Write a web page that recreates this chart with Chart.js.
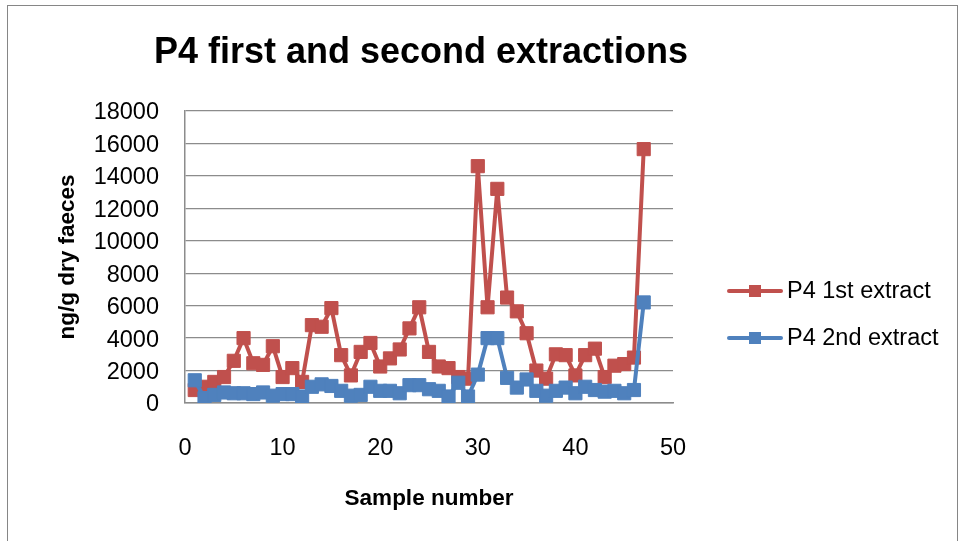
<!DOCTYPE html>
<html>
<head>
<meta charset="utf-8">
<title>P4 first and second extractions</title>
<script src="https://cdn.jsdelivr.net/npm/chart.js@4/dist/chart.umd.min.js"></script>
<style>
  html, body { margin: 0; padding: 0; background: #ffffff; }
  #wrap { width: 960px; height: 541px; }
</style>
</head>
<body>
<div id="wrap"><canvas id="chart" width="960" height="541"></canvas></div>
<script>
// Sample numbers and P4 concentrations (ng/g dry faeces) for both extractions
const sampleNumbers = [1,2,3,4,5,6,7,8,9,10,11,12,13,14,15,16,17,18,19,20,21,22,23,24,25,26,27,28,29,30,31,32,33,34,35,36,37,38,39,40,41,42,43,44,45,46,47];
const firstExtract = [800,1000,1300,1600,2600,4000,2450,2350,3500,1600,2150,1300,4800,4700,5850,2950,1700,3150,3700,2250,2750,3300,4600,5900,3150,2250,2150,1600,1500,14600,5900,13200,6500,5650,4300,2000,1500,3000,2950,1700,2950,3350,1600,2300,2400,2800,15650];
const secondExtract = [1400,300,500,650,600,600,550,650,450,550,550,400,1000,1150,1050,750,450,500,1000,750,750,600,1100,1100,850,750,400,1250,400,1750,4000,4000,1550,950,1450,750,450,750,950,600,1000,800,700,750,600,800,6200];
const seriesNames = ['P4 1st extract', 'P4 2nd extract'];
const yTicks = [0,2000,4000,6000,8000,10000,12000,14000,16000,18000];
const xTicks = [0,10,20,30,40,50];

const RED = '#C0504D';
const BLUE = '#4F81BD';
const GRID = '#8C8C8C';
const FONT = '"Liberation Sans", Arial, sans-serif';

const toPoints = (xs, ys) => xs.map((x, i) => ({ x: x, y: ys[i] }));

// Outer frame and chart title
const framePlugin = {
  id: 'frame',
  beforeDraw(chart) {
    const ctx = chart.ctx;
    ctx.save();
    ctx.fillStyle = '#ffffff';
    ctx.fillRect(0, 0, chart.width, chart.height);
    ctx.strokeStyle = '#868686';
    ctx.lineWidth = 1;
    ctx.strokeRect(7.5, 5.5, 950, 560);
    ctx.restore();
  },
  afterDraw(chart) {
    const ctx = chart.ctx;
    ctx.save();
    ctx.fillStyle = '#000000';
    ctx.font = 'bold 36px ' + FONT;
    ctx.textAlign = 'center';
    ctx.textBaseline = 'middle';
    ctx.fillText('P4 first and second extractions', 421, 53);
    ctx.restore();
  }
};

// Legend on the right: line sample with a square marker, then the series name
const sideLegendPlugin = {
  id: 'sideLegend',
  afterDraw(chart) {
    const ctx = chart.ctx;
    const rows = [291, 338];
    ctx.save();
    chart.data.datasets.forEach((ds) => {
      const y = rows[ds.legendRow];
      ctx.strokeStyle = ds.borderColor;
      ctx.lineWidth = 4;
      ctx.lineCap = 'round';
      ctx.beginPath();
      ctx.moveTo(729, y);
      ctx.lineTo(781, y);
      ctx.stroke();
      ctx.fillStyle = ds.backgroundColor;
      ctx.fillRect(749, y - 6, 12, 12);
      ctx.fillStyle = '#000000';
      ctx.font = '23.5px ' + FONT;
      ctx.textAlign = 'left';
      ctx.textBaseline = 'middle';
      ctx.fillText(ds.label, 787, y + 1);
    });
    ctx.restore();
  }
};

const lineStyle = (color) => ({
  borderColor: color,
  backgroundColor: color,
  pointBackgroundColor: color,
  pointBorderColor: color,
  pointStyle: 'rect',
  pointRadius: 9.3,
  pointBorderWidth: 1,
  borderWidth: 4,
  borderJoinStyle: 'round',
  borderCapStyle: 'round',
  tension: 0,
  showLine: true
});

new Chart(document.getElementById('chart'), {
  type: 'scatter',
  data: {
    datasets: [
      Object.assign({ label: seriesNames[0], data: toPoints(sampleNumbers, firstExtract), order: 2, legendRow: 0 }, lineStyle(RED)),
      Object.assign({ label: seriesNames[1], data: toPoints(sampleNumbers, secondExtract), order: 1, legendRow: 1 }, lineStyle(BLUE))
    ]
  },
  options: {
    responsive: false,
    animation: false,
    devicePixelRatio: 1,
    layout: { padding: { left: 8, right: 287, top: 111, bottom: 0 } },
    plugins: {
      legend: { display: false },
      title: { display: false },
      tooltip: { enabled: false }
    },
    scales: {
      x: {
        type: 'linear',
        min: xTicks[0],
        max: xTicks[xTicks.length - 1],
        afterFit(scale) { scale.height = 138; },
        afterBuildTicks(scale) { scale.ticks = xTicks.map(v => ({ value: v })); },
        grid: { display: false, drawTicks: false },
        border: { display: true, color: GRID, width: 1.5 },
        ticks: {
          padding: 31,
          color: '#000000',
          font: { family: FONT, size: 23.5 },
          maxRotation: 0,
          callback: (v) => String(v)
        },
        title: {
          display: true,
          text: 'Sample number',
          color: '#000000',
          font: { family: FONT, size: 22.5, weight: 'bold' },
          padding: { top: 0, bottom: 29 }
        }
      },
      y: {
        type: 'linear',
        min: yTicks[0],
        max: yTicks[yTicks.length - 1],
        afterFit(scale) { scale.width = 177; },
        afterBuildTicks(scale) { scale.ticks = yTicks.map(v => ({ value: v })); },
        grid: { color: GRID, lineWidth: 1.3, drawTicks: false },
        border: { display: true, color: GRID, width: 1.5 },
        ticks: {
          padding: 26,
          labelOffset: 2,
          color: '#000000',
          font: { family: FONT, size: 23.5 },
          callback: (v) => String(v)
        },
        title: {
          display: true,
          text: 'ng/g dry faeces',
          color: '#000000',
          font: { family: FONT, size: 22.5, weight: 'bold' },
          padding: { top: 46, bottom: 0 }
        }
      }
    }
  },
  plugins: [framePlugin, sideLegendPlugin]
});
</script>
</body>
</html>
